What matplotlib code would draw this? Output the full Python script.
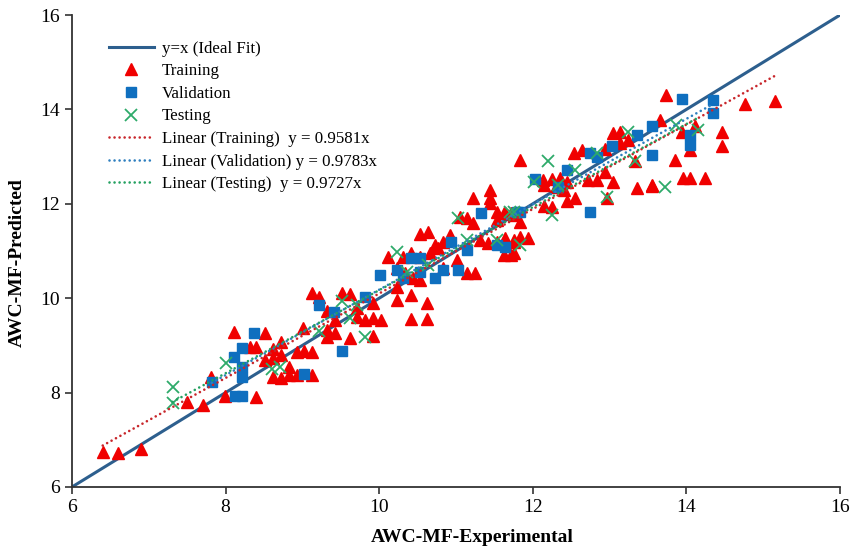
import matplotlib

matplotlib.use("Agg")
import matplotlib.pyplot as plt
import numpy as np

# Values.
train_x = [6.40, 6.60, 6.90, 7.50, 7.71, 7.81, 7.99, 8.11, 8.40, 8.32, 8.40, 8.51, 8.62,
           8.72, 8.62, 8.72, 8.51, 8.82, 8.62, 8.72, 8.82, 8.93, 9.12, 8.93, 9.02, 9.12,
           9.01, 9.12, 9.21, 9.32, 9.32, 9.42, 9.32, 9.62, 9.42, 9.51, 9.62, 9.71, 9.81,
           9.92, 9.92, 9.92, 9.71,
           10.02, 10.23, 10.42, 10.62, 10.42, 10.62, 10.23, 10.12, 10.31, 10.42, 10.53,
           10.66, 10.77, 10.53, 10.64, 10.73, 10.83, 10.92, 11.01, 11.14, 11.25, 11.05,
           11.14, 11.22, 11.22, 11.44, 11.44, 11.44, 11.53, 11.62, 11.72, 11.53, 11.31,
           11.42, 11.53, 11.64, 11.75, 11.62, 11.72, 10.23, 10.34, 10.44, 10.53, 10.83,
           11.83, 12.54, 12.64, 13.05, 13.14, 12.94, 13.35, 13.55, 12.96, 12.13, 12.25,
           12.35, 12.44, 12.15, 12.30, 12.40, 12.55, 12.44, 12.14, 12.25, 12.72, 12.83,
           12.94, 13.05, 11.64, 11.75, 11.83, 11.64, 11.75, 11.83, 11.94, 11.75, 13.33,
           13.14, 13.24,
           13.74, 14.76, 15.15, 14.46, 14.46, 14.11, 13.94, 13.65, 13.85, 13.95, 14.05,
           14.24, 13.55, 14.05]
train_y = [6.75, 6.73, 6.80, 7.81, 7.74, 8.34, 7.92, 9.29, 7.91, 8.97, 8.97, 9.27, 8.92,
           9.08, 8.73, 8.80, 8.69, 8.55, 8.32, 8.30, 8.37, 8.37, 8.37, 8.85, 8.88, 8.85,
           9.36, 10.10, 10.03, 9.73, 9.33, 9.26, 9.18, 9.16, 9.54, 10.10, 10.08, 9.79, 9.54,
           9.57, 9.20, 9.89, 9.61,
           9.54, 9.96, 10.07, 9.89, 9.55, 9.55, 10.24, 10.88, 10.88, 10.95, 10.88,
           10.95, 11.06, 11.37, 11.41, 11.13, 11.20, 11.34, 10.81, 10.53, 10.53, 11.72,
           11.69, 11.59, 12.12, 12.29, 12.12, 12.01, 11.83, 11.80, 11.80, 11.66, 11.23,
           11.16, 11.20, 11.23, 11.20, 10.92, 10.92, 10.63, 10.53, 10.42, 10.39, 10.63,
           12.93, 13.07, 13.14, 13.49, 13.53, 13.16, 12.33, 12.38, 12.12, 12.51, 12.52,
           12.54, 12.47, 12.40, 12.35, 12.30, 12.12, 12.05, 11.95, 11.94, 12.51, 12.51,
           12.68, 12.47, 11.80, 11.76, 11.62, 11.27, 11.23, 11.30, 11.27, 10.95, 12.90,
           13.28, 13.35,
           14.31, 14.11, 14.18, 13.53, 13.22, 13.64, 13.53, 13.77, 12.93, 12.54, 12.54,
           12.54, 12.40, 13.14]

valid_x = [7.82, 8.11, 8.21, 8.21, 8.21, 8.12, 8.22, 8.37, 9.02, 9.21, 9.41, 9.52, 9.82,
           10.01, 10.23, 10.42, 10.53, 10.31, 10.53, 10.73, 10.83, 11.03, 10.94, 11.14,
           11.33, 11.53, 11.64, 11.79, 11.83, 12.44, 12.03, 12.33, 12.74, 12.83, 13.03,
           13.35, 13.55, 13.55, 12.74, 13.94, 14.35, 14.35, 14.05, 14.05]
valid_y = [8.22, 8.75, 8.94, 8.55, 8.34, 7.93, 7.93, 9.26, 8.40, 9.85, 9.71, 8.89, 10.03,
           10.49, 10.60, 10.85, 10.85, 10.42, 10.56, 10.42, 10.60, 10.60, 11.20, 11.02,
           11.80, 11.13, 11.09, 11.83, 11.83, 12.72, 12.52, 12.36, 13.07, 13.00, 13.23,
           13.46, 13.64, 13.03, 11.82, 14.22, 14.20, 13.92, 13.46, 13.25]

test_x = [7.31, 7.31, 8.00, 8.61, 8.71, 9.21, 9.52, 9.62, 9.71, 9.81, 10.23, 10.36, 10.64,
          11.03, 11.14, 11.53, 11.75, 11.83, 11.70, 12.20, 12.01, 12.33, 12.55, 12.83,
          13.24, 13.33, 12.96, 12.25, 13.72, 14.15, 13.87]
test_y = [8.12, 7.78, 8.63, 8.49, 8.54, 9.31, 9.93, 9.59, 9.86, 9.18, 10.98, 10.56, 10.70,
          11.69, 11.23, 11.23, 11.83, 11.13, 11.83, 12.90, 12.47, 12.40, 12.72, 13.07,
          13.53, 12.90, 12.15, 11.76, 12.36, 13.56, 13.67]

# Trend lines as drawn in the picture: slope, intercept.
train_fit = (0.895, 1.15)
valid_fit = (0.905, 1.13)
test_fit = (0.880, 1.37)
eq_labels = ["y = 0.9581x", "y = 0.9783x", "y = 0.9727x"]

ticks = [6, 8, 10, 12, 14, 16]

plt.rcParams["font.family"] = ["Liberation Serif", "DejaVu Serif"]

fig = plt.figure(figsize=(8.55, 5.52), dpi=100)
ax = fig.add_axes([0.0842, 0.1178, 0.8983, 0.855])

ideal = np.array([6, 16])
ax.plot(ideal, ideal, color="#2D5F8E", lw=2.2, zorder=2, label="y=x (Ideal Fit)")

ax.plot(train_x, train_y, "^", color="#F00000", ms=8, mec="#F00000", zorder=3,
        label="Training")
ax.plot(valid_x, valid_y, "s", color="#0F6FBF", ms=7.5, mec="#0F6FBF", zorder=4,
        label="Validation")
ax.plot(test_x, test_y, "x", color="#2EAA6A", ms=8, mew=1.3, zorder=5,
        label="Testing")


def trend(xs, fit, color, label):
    # round-dot trendline, drawn between the series' min and max x
    xx = np.array([min(xs), max(xs)])
    ax.plot(xx, fit[0] * xx + fit[1], color=color, lw=1.9,
            dashes=(0.01, 1.9), dash_capstyle="round", zorder=6, label=label)


trend(train_x, train_fit, "#C8262B", f"Linear (Training)  {eq_labels[0]}")
trend(valid_x, valid_fit, "#2E7FBF", f"Linear (Validation) {eq_labels[1]}")
trend(test_x, test_fit, "#23A060", f"Linear (Testing)  {eq_labels[2]}")

ax.set_xlim(6, 16)
ax.set_ylim(6, 16)
ax.set_xticks(ticks)
ax.set_yticks(ticks)
ax.tick_params(direction="out", length=5, width=1.2, labelsize=14, color="#333333")
for side in ("top", "right"):
    ax.spines[side].set_visible(False)
for side in ("left", "bottom"):
    ax.spines[side].set_linewidth(1.3)
    ax.spines[side].set_color("#333333")

ax.set_xlabel("AWC-MF-Experimental", fontsize=14, fontweight="bold")
ax.set_ylabel("AWC-MF-Predicted", fontsize=14, fontweight="bold")
ax.xaxis.set_label_coords(0.521, -0.088)
ax.yaxis.set_label_coords(-0.06, 0.475)

ax.legend(loc="upper left", bbox_to_anchor=(0.039, 0.96), frameon=False,
          fontsize=12.2, labelspacing=0.39, handlelength=2.65, handletextpad=0.47,
          numpoints=1, borderaxespad=0)

fig.savefig("out.png", dpi=100)
